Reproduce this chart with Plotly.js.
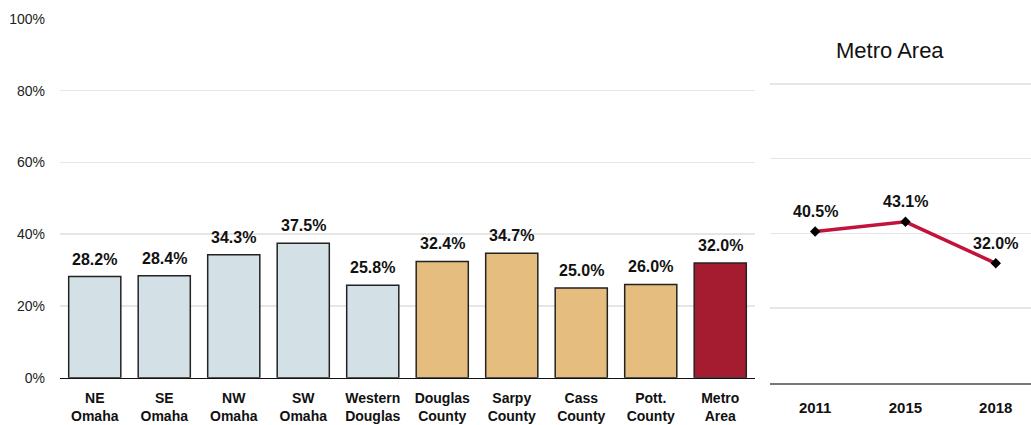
<!DOCTYPE html>
<html>
<head>
<meta charset="utf-8">
<script src="https://cdn.plot.ly/plotly-3.0.1.min.js"></script>
<style>html,body{margin:0;padding:0;background:#fff;}#chart{width:1031px;height:425px;}</style>
</head>
<body>
<div id="chart"></div>
<script>
const regions = ["NE<br>Omaha","SE<br>Omaha","NW<br>Omaha","SW<br>Omaha","Western<br>Douglas","Douglas<br>County","Sarpy<br>County","Cass<br>County","Pott.<br>County","Metro<br>Area"];
const regionValues = [28.2, 28.4, 34.3, 37.5, 25.8, 32.4, 34.7, 25.0, 26.0, 32.0];
const regionColors = ["#d3e0e5","#d3e0e5","#d3e0e5","#d3e0e5","#d3e0e5","#e5bd7f","#e5bd7f","#e5bd7f","#e5bd7f","#a51c30"];
const years = ["2011","2015","2018"];
const metroValues = [40.5, 43.1, 32.0];
const yTicks = [0, 20, 40, 60, 80, 100];
const yTickLabels = ["0%","20%","40%","60%","80%","100%"];

const FONT = "'Liberation Sans Narrow', 'Arial Narrow', 'Liberation Sans', Arial, sans-serif";
const W = 1031, H = 425;
const px = v => v / W;
const py = v => 1 - v / H;
const labelFont = { family: FONT, size: 16, color: "#111", weight: "bold" };

const traces = [
  {
    type: "bar",
    x: regions,
    y: regionValues,
    xaxis: "x", yaxis: "y",
    marker: { color: regionColors, line: { color: "#222", width: 1.5 } },
    hoverinfo: "none"
  },
  {
    type: "scatter",
    mode: "lines+markers",
    x: years,
    y: metroValues,
    xaxis: "x2", yaxis: "y2",
    line: { color: "#c0143c", width: 3.5 },
    marker: { symbol: "diamond", size: 8, color: "#000" },
    hoverinfo: "none"
  }
];

const annotations = [];
regions.forEach((r, i) => annotations.push({
  xref: "x", yref: "y", x: i, y: regionValues[i],
  text: regionValues[i].toFixed(1) + "%",
  showarrow: false, xanchor: "center", yanchor: "bottom", yshift: 7,
  font: labelFont
}));
years.forEach((yr, i) => annotations.push({
  xref: "x2", yref: "y2", x: i, y: metroValues[i],
  text: metroValues[i].toFixed(1) + "%",
  showarrow: false, xanchor: "center", yanchor: "middle", yshift: 20,
  font: labelFont
}));
annotations.push({
  xref: "paper", yref: "paper",
  x: px(890), y: py(50),
  xanchor: "center", yanchor: "middle",
  text: "Metro Area",
  showarrow: false,
  font: { family: FONT, size: 22, color: "#111" }
});

const layout = {
  width: W, height: H,
  margin: { l: 0, r: 0, t: 0, b: 0 },
  paper_bgcolor: "#fff",
  plot_bgcolor: "rgba(0,0,0,0)",
  showlegend: false,
  bargap: 0.25,
  font: { family: FONT, color: "#222" },
  xaxis: {
    domain: [px(60), px(755)],
    anchor: "y",
    type: "category",
    showgrid: false,
    showline: true, linecolor: "#111", linewidth: 1.5,
    ticks: "", ticklabelstandoff: 7,
    tickfont: { family: FONT, size: 14, color: "#111", weight: "bold" },
    fixedrange: true
  },
  yaxis: {
    domain: [py(377.7), py(19)],
    anchor: "x",
    range: [0, 100],
    tickvals: yTicks,
    ticktext: yTickLabels,
    showgrid: true, gridcolor: "#e6e6e6", gridwidth: 1.5,
    zeroline: false, showline: false,
    ticks: "", ticklabelstandoff: 14,
    tickfont: { family: FONT, size: 14, color: "#222" },
    fixedrange: true
  },
  xaxis2: {
    domain: [px(770), 1],
    anchor: "y2",
    type: "category",
    range: [-0.5, 2.39],
    showgrid: false,
    showline: true, linecolor: "#777", linewidth: 1.5,
    ticks: "", ticklabelstandoff: 10,
    tickfont: { family: FONT, size: 15, color: "#111", weight: "bold" },
    fixedrange: true
  },
  yaxis2: {
    domain: [py(383), py(9)],
    anchor: "x2",
    range: [0, 100],
    tickvals: yTicks,
    showticklabels: false,
    showgrid: true, gridcolor: "#e6e6e6", gridwidth: 1.5,
    zeroline: false, showline: false, ticks: "",
    fixedrange: true
  },
  annotations: annotations
};

Plotly.newPlot("chart", traces, layout, { displayModeBar: false, staticPlot: true });
</script>
</body>
</html>
